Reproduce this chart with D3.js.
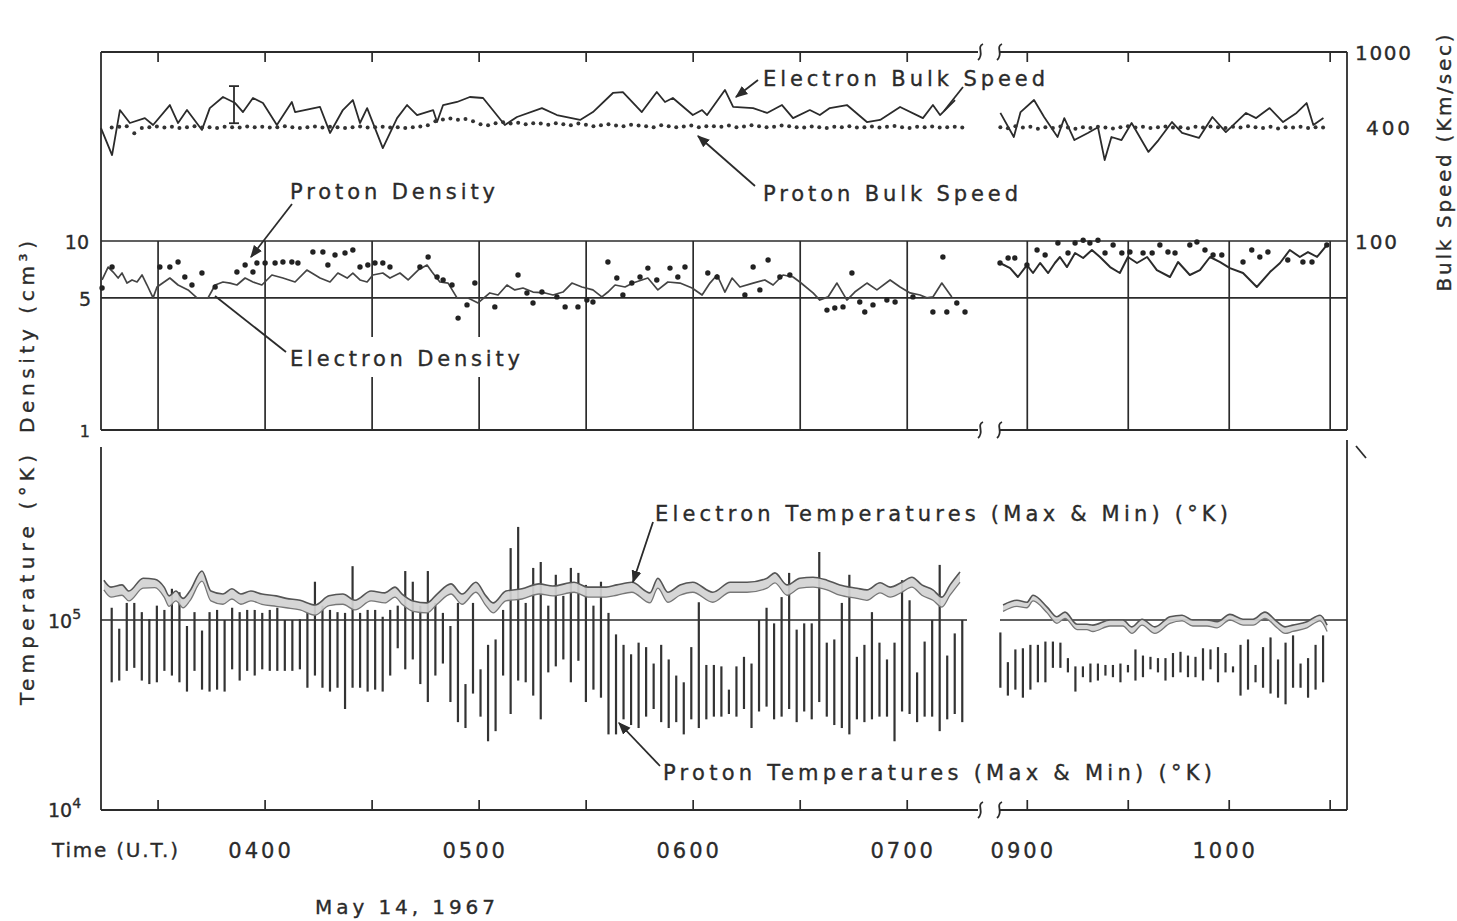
<!DOCTYPE html>
<html>
<head>
<meta charset="utf-8">
<script src="https://cdn.jsdelivr.net/npm/d3@7"></script>
<style>
body { margin: 0; background: #fff; }
text { font-family: "DejaVu Sans", sans-serif; fill: #2b2b2b; stroke: #2b2b2b; stroke-width: 0.35px; }
</style>
</head>
<body>
<svg id="chart" width="1457" height="921"></svg>
<script>
// times are minutes after 00:00 UT, May 14 1967
var segments = [[194, 439], [531, 635]];
var halfHourTicks = [210, 240, 270, 300, 330, 360, 390, 420, 540, 570, 600, 630];
var hourTicks = [240, 300, 360, 420, 540, 600];
var hourLabels = ["0400", "0500", "0600", "0700", "0900", "1000"];

// electron bulk speed (km/s) [time, value]
var eSpeedA = [[194,396],[197.1,285],[199.3,493],[202.1,421],[206.3,447],[208.6,411],[213.3,524],[215.6,421],[218.1,493],[222.3,387],[224.5,505],[228.2,578],[231.6,537],[233.8,481],[236.6,571],[239.4,537],[243.3,411],[247.5,544],[248.4,481],[255.4,512],[258.2,373],[261.8,493],[264.6,557],[266.6,421],[268.6,505],[273,310],[277,447],[279.8,524],[282.6,464],[287.1,493],[288.2,426],[289.9,524],[293.8,544],[297.4,578],[301.1,571],[307.2,411],[310.6,453],[317.6,505],[321.8,464],[328.3,437],[331.9,481],[337.5,607],[340.3,614],[345.6,481],[349.8,614],[352.1,544],[354.3,571],[359.9,464],[362.5,493],[363.9,464],[368.9,630],[371.2,512],[376.8,505],[380.7,476],[384.9,524],[388,447],[392.7,493],[395.5,464],[398.3,505],[403.1,524],[408.7,426],[412.4,437],[418,512],[424.4,447],[427.2,524],[429.2,464],[433.4,557]];
var eSpeedB = [[532,476],[536,355],[538,481],[542,557],[545,453],[549,355],[551,447],[554,342],[558,373],[561,400],[563,268],[565,355],[568,342],[571,421],[576,296],[579,342],[583,426],[586,373],[591,351],[595,453],[599,377],[605,476],[608,447],[612,505],[616,426],[620,476],[623,537],[625,411],[628,447]];

// proton data cadence (start, step in minutes)
var pStartA = 197, pStepA = 2.11;
var pStartB = 532, pStepB = 2.23;

// proton bulk speed (km/s)
var pSpeedA = [398,402,405,372,396,400,404,398,402,396,400,405,398,400,396,402,400,398,404,400,
  402,398,400,405,400,396,400,404,398,402,400,396,400,404,398,400,402,398,400,396,
  400,404,410,430,440,445,438,442,430,415,410,420,425,418,422,415,420,418,412,420,
  415,410,418,412,405,410,415,408,405,412,408,405,400,410,405,400,404,408,400,405,
  405,402,408,400,404,410,405,400,402,408,405,400,398,404,400,396,402,400,405,398,
  400,404,398,402,406,400,396,402,400,404,398,400,402,398];
var pSpeedB = [400,395,405,398,402,392,400,396,404,398,392,400,396,402,398,394,400,405,398,402,
  396,400,404,398,400,395,402,398,404,400,396,402,398,405,400,396,402,394,400,398,402,396,400,398];

// proton temperature max / min (10^3 K)
var pMaxA = [116,90,123,123,110,101,119,113,146,140,93,110,88,110,113,100,116,110,113,113,
  109,113,116,100,100,101,110,159,119,113,110,109,192,109,113,113,104,113,119,181,
  159,119,181,123,109,93,123,46,123,55,74,79,113,239,309,123,188,202,119,173,
  134,188,177,153,119,159,109,84,74,66,76,72,59,74,62,51,47,72,124,58,
  58,57,43,57,64,59,100,116,96,132,177,89,96,96,228,76,79,123,173,64,
  74,110,76,62,76,162,127,53,77,100,195,65,85,100];
var pMinA = [47,48,54,56,48,46,47,54,51,47,42,54,43,42,43,42,55,48,54,51,
  55,54,54,54,54,55,44,51,44,42,44,34,44,44,42,43,42,51,71,55,
  62,46,37,51,59,37,29,27,41,31,23,26,51,32,48,47,40,30,53,57,
  62,47,61,37,43,39,25,25,30,28,27,31,34,29,27,29,25,30,27,30,
  31,31,32,31,34,27,33,35,30,31,34,29,33,30,37,31,28,27,25,30,
  29,30,31,31,23,33,32,29,31,31,26,30,32,29];
var pMaxB = [86,60,70,71,74,74,77,77,76,63,57,57,59,59,58,58,59,58,70,65,
  64,63,63,67,68,65,64,71,70,72,67,57,74,79,58,72,81,62,76,83,59,63,74,83];
var pMinB = [44,40,43,39,43,47,47,56,56,53,42,50,47,48,51,50,47,53,48,50,
  55,53,48,50,53,50,50,48,55,47,53,53,40,43,47,44,41,39,36,44,44,39,43,47];

// proton density (cm^-3) [time, value]
var pDensA = [[194.3,5.64],[197.1,7.28],[210.5,7.28],[213.3,7.28],[215.6,7.74],[217.5,6.45],[219.5,5.85],[222.3,6.77],[226,5.71],[232.1,6.85],[234.4,7.46],[236.6,6.85],[237.7,7.65],[240,7.65],[242.8,7.65],[245,7.74],[247.5,7.74],[249.2,7.65],[253.4,8.74],[256.2,8.74],[257.6,7.46],[259.6,8.43],[262.4,8.64],[264.6,8.96],[266.6,7.28],[268.8,7.46],[270.8,7.65],[273,7.65],[275,7.28],[283.4,7.28],[285.7,8.23],[288.2,6.45],[289.9,6.22],[292.4,5.85],[294.1,3.91],[296.6,4.59],[298.8,5.99],[304.4,4.48],[310.9,6.61],[313.4,5.31],[315.1,4.7],[317.6,5.37],[321.8,5.06],[324.1,4.48],[327.7,4.48],[330.2,4.87],[331.9,4.76],[336.1,7.74],[338.6,6.37],[340.3,5.18],[342.8,5.99],[345.1,6.45],[347.3,7.19],[349.8,6.22],[353.5,7.19],[355.7,6.45],[357.7,7.28],[364.1,6.77],[366.7,6.45],[374.5,5.18],[376.8,7.28],[378.7,5.51],[381,7.93],[384.3,6.45],[387.1,6.61],[397.5,4.31],[399.7,4.42],[402,4.48],[404.5,6.77],[406.7,4.76],[408.1,4.21],[410.4,4.59],[414.3,4.87],[416.6,4.76],[421.6,5.06],[427.2,4.21],[430,8.23],[431.1,4.21],[433.9,4.7],[436.2,4.21]];
var pDensB = [[531.9,7.65],[534.3,8.13],[536.3,8.13],[539.9,7.46],[542.9,8.96],[545.3,8.43],[549.1,9.76],[552.1,8.64],[554.2,9.76],[556.6,10.1],[558.6,9.76],[561,10.1],[563.1,8.64],[565.5,9.52],[568.1,8.64],[570.5,8.74],[574.4,8.64],[577.1,8.64],[579.4,9.52],[581.8,8.74],[583.9,8.64],[588.3,9.52],[590.4,9.88],[592.8,8.96],[595.2,8.43],[597.8,8.43],[604.1,7.74],[606.7,8.96],[609.1,8.23],[611.5,8.74],[617.4,7.93],[621.9,7.74],[624.6,7.74],[629,9.52]];

// electron density (cm^-3) [time, value]
var eDensA = [[194.3,6.22],[196,7.28],[197.4,6.85],[198.8,6.37],[199.9,6.77],[201.3,5.99],[202.7,6.22],[204.1,6.07],[205.5,6.61],[206.9,5.85],[208.6,5.0],[209.7,5.71],[213.3,6.37],[215.6,5.85],[218.4,5.51],[220.9,5.0],[224,5.0],[226,5.85],[228.2,6.07],[230.2,5.99],[232.1,5.85],[234.4,6.37],[236.6,6.07],[239.1,5.85],[241.9,6.61],[245,6.37],[248.4,6.07],[251.7,7.02],[255.4,6.37],[258.2,6.07],[260.4,6.77],[263,6.37],[264.6,6.77],[266.6,6.22],[268.6,6.07],[270.2,6.61],[273,6.77],[275,6.37],[277.8,6.77],[280.1,6.22],[282.9,7.02],[285.4,7.46],[286.8,6.85],[289,6.07],[291.3,5.99],[293.8,5.0],[296.9,5.0],[299.7,4.7],[303,5.31],[305.3,5.18],[307.8,5.85],[310,5.51],[312.3,5.64],[315.1,5.37],[318.5,5.31],[320.7,5.18],[323.5,5.37],[326,5.99],[328.8,5.71],[331.9,5.51],[334.4,5.06],[336.1,5.37],[338.1,5.85],[340.9,5.71],[343.1,5.99],[347.3,6.37],[350.1,5.51],[352.9,6.07],[356.3,5.99],[359.7,5.64],[362.5,5.18],[364.7,5.99],[366.7,6.61],[368.9,5.37],[370.9,6.37],[373.1,5.71],[376.8,5.99],[380.1,6.22],[382.4,5.85],[385.2,6.61],[388,6.45],[389.9,6.07],[393.6,5.31],[395.5,4.87],[397.8,5.06],[400.3,5.99],[403.1,4.87],[405.3,5.37],[408.7,5.99],[411.5,5.51],[415.2,6.22],[418,5.71],[420.8,5.31],[423.6,5.18],[425.5,5.0],[427.2,5.06],[429.7,5.99],[432.5,5.06]];
var eDensB = [[531.9,7.65],[534.9,7.19],[537.2,6.45],[539.9,7.46],[541.7,6.77],[543.8,7.65],[546.2,6.77],[548.2,7.65],[549.7,8.23],[551.8,7.28],[554.2,8.64],[556.6,8.13],[559.2,8.96],[561.6,8.23],[564.6,7.28],[567.5,6.77],[569.9,8.23],[572.6,7.65],[575.6,8.23],[578.5,7.02],[582.4,6.45],[584.8,7.74],[588.3,6.61],[591.3,7.02],[594.3,8.23],[597.3,7.74],[600.2,7.19],[604.1,6.77],[608.2,5.71],[612.1,6.85],[615.1,7.65],[618,8.96],[621,8.23],[623.4,8.74],[626.1,8.23],[629,9.52]];

// electron temperature [time, max, min] (10^3 K)
var eTempA = [[194.8,162,144],[196.8,149,132],[199.9,153,135],[201.8,142,126],[205.8,166,147],[209.1,164,148],[211.7,149,132],[213.1,134,118],[215,142,126],[217,130,116],[218.9,142,126],[222.3,181,160],[224.8,142,126],[228.2,137,121],[230.7,146,129],[233.2,137,121],[236,142,126],[239.1,137,121],[243.1,134,118],[245.9,130,116],[249.8,127,113],[254,120,106],[257.9,134,119],[261.8,137,121],[265.2,127,113],[269.7,142,126],[273.6,139,123],[276.4,149,132],[278.4,137,121],[281.5,126,111],[285.4,123,109],[288.2,137,121],[292.1,155,137],[295.2,137,121],[299.1,158,140],[301.9,134,119],[303.9,123,109],[307.5,142,126],[312,146,129],[316.8,155,137],[320.7,151,134],[326.6,158,140],[330.5,149,132],[335.6,149,132],[338.6,153,135],[342.8,158,140],[347.9,139,123],[350.1,166,147],[352.9,140,124],[356.3,153,135],[359.9,158,140],[365.5,140,124],[370.4,158,140],[375.1,158,140],[380.7,166,147],[382.9,177,157],[386.3,153,135],[389.9,166,147],[393.6,168,149],[397.5,162,144],[401.1,153,135],[405.9,147,130],[408.7,144,127],[412.4,157,139],[415.2,149,132],[418.5,158,140],[421.3,168,149],[424.1,153,135],[427.2,144,127],[429.7,132,117],[432,153,135],[434.8,179,158]];
var eTempB = [[532.8,120,111],[536.9,127,118],[539.9,124,116],[541.7,135,126],[545.9,117,109],[548.8,104,96],[551.2,110,102],[554.8,95,89],[557.7,95,89],[559.5,94,87],[564.6,100,93],[568.4,100,93],[571.1,92,85],[574.1,101,94],[577.9,92,85],[582.4,104,96],[586,106,99],[589.2,100,93],[593.4,100,93],[596.4,98,91],[600.2,107,100],[604.1,101,94],[607.1,101,94],[610.6,110,102],[614.2,98,91],[616.6,92,85],[618.9,94,87],[623.1,98,91],[627,106,99],[629.1,94,87]];

var ink = "#2b2b2b";
var svg = d3.select("#chart");
svg.append("rect").attr("width", 1457).attr("height", 921).attr("fill", "#fff");

var defs = svg.append("defs");
defs.append("marker").attr("id", "arr").attr("viewBox", "0 0 10 10")
  .attr("refX", 9).attr("refY", 5).attr("markerWidth", 7).attr("markerHeight", 7)
  .attr("orient", "auto")
  .append("path").attr("d", "M0,1 L10,5 L0,9 z").attr("fill", ink);

// scales: broken time axis + log value axes
var x = d3.scaleLinear()
  .domain([segments[0][0], segments[0][1], segments[1][0], segments[1][1]])
  .range([101, 975, 997, 1347]);
var ySpeed = d3.scaleLog().domain([100, 1000]).range([241, 52]);
var yDens = d3.scaleLog().domain([1, 10]).range([430, 241]);
var yTemp = d3.scaleLog().domain([1e4, 1e5]).range([810, 620]);

var frame = svg.append("g").attr("stroke", ink).attr("stroke-width", 1.8).attr("fill", "none");

function line(x1, y1, x2, y2, w) {
  return frame.append("line").attr("x1", x1).attr("y1", y1).attr("x2", x2).attr("y2", y2)
    .attr("stroke-width", w || 1.8);
}
function squiggle(cx, cy) {
  frame.append("path")
    .attr("d", "M" + (cx + 3) + "," + (cy - 8) + " C" + (cx - 4) + "," + (cy - 5) + " " + (cx + 5) + "," + (cy + 2) + " " + (cx - 2) + "," + (cy + 8))
    .attr("stroke-width", 1.8);
}

// horizontal borders with break marks
[52, 430, 810].forEach(function(yy) {
  line(101, yy, 978, yy);
  line(1000, yy, 1347, yy);
  squiggle(980, yy);
  squiggle(999, yy);
});
// side axes
line(101, 52, 101, 430);
line(1347, 52, 1347, 430);
line(101, 447, 101, 810);
line(1347, 440, 1347, 810);
line(1356, 446, 1366, 458, 1.8);

// half-hour ticks top and bottom, grid in density panel
halfHourTicks.forEach(function(t) {
  line(x(t), 52, x(t), 62, 1.7);
  line(x(t), 810, x(t), 800, 1.7);
  line(x(t), yDens(10), x(t), yDens(1), 1.7);
});
// reference lines
line(101, yDens(10), 1347, yDens(10), 1.7);
line(101, yDens(5), 1347, yDens(5), 1.7);
line(101, yTemp(1e5), 967, yTemp(1e5), 1.5);
line(1000, yTemp(1e5), 1347, yTemp(1e5), 1.5);

// ---- bulk speed ----
var speedLine = d3.line().x(function(d) { return x(d[0]); }).y(function(d) { return ySpeed(d[1]); });
[eSpeedA, eSpeedB].forEach(function(s) {
  svg.append("path").datum(s).attr("d", speedLine)
    .attr("fill", "none").attr("stroke", ink).attr("stroke-width", 1.8).attr("stroke-linejoin", "round");
});
function cadence(vals, start, step) {
  return vals.map(function(v, i) { return [start + i * step, v]; });
}
var pSpeed = cadence(pSpeedA, pStartA, pStepA).concat(cadence(pSpeedB, pStartB, pStepB));
svg.append("g").selectAll("circle").data(pSpeed).enter().append("circle")
  .attr("cx", function(d) { return x(d[0]); })
  .attr("cy", function(d) { return ySpeed(d[1]); })
  .attr("r", 2).attr("fill", "#333");

// error bar on electron speed
line(234, ySpeed(660), 234, ySpeed(420), 1.8);
line(229, ySpeed(660), 239, ySpeed(660), 1.8);
line(229, ySpeed(420), 239, ySpeed(420), 1.8);

// ---- density ----
var densLine = d3.line().x(function(d) { return x(d[0]); }).y(function(d) { return yDens(d[1]); });
svg.append("path").datum(eDensA).attr("d", densLine)
  .attr("fill", "none").attr("stroke", "#444").attr("stroke-width", 1.7).attr("stroke-linejoin", "round");
svg.append("path").datum(eDensB).attr("d", densLine)
  .attr("fill", "none").attr("stroke", "#2b2b2b").attr("stroke-width", 2).attr("stroke-linejoin", "round");
svg.append("g").selectAll("circle").data(pDensA.concat(pDensB)).enter().append("circle")
  .attr("cx", function(d) { return x(d[0]); })
  .attr("cy", function(d) { return yDens(d[1]); })
  .attr("r", 2.7).attr("fill", "#222");

// ---- temperatures ----
var pTemp = [];
pMaxA.forEach(function(v, i) { pTemp.push([pStartA + i * pStepA, v, pMinA[i]]); });
pMaxB.forEach(function(v, i) { pTemp.push([pStartB + i * pStepB, v, pMinB[i]]); });
svg.append("g").selectAll("line").data(pTemp).enter().append("line")
  .attr("x1", function(d) { return x(d[0]); })
  .attr("x2", function(d) { return x(d[0]); })
  .attr("y1", function(d) { return yTemp(d[1] * 1000); })
  .attr("y2", function(d) { return yTemp(d[2] * 1000); })
  .attr("stroke", "#333").attr("stroke-width", 2.2);

var band = d3.area().curve(d3.curveMonotoneX)
  .x(function(d) { return x(d[0]); })
  .y0(function(d) { return yTemp(d[2] * 1000); })
  .y1(function(d) { return yTemp(d[1] * 1000); });
var edgeHi = d3.line().curve(d3.curveMonotoneX)
  .x(function(d) { return x(d[0]); }).y(function(d) { return yTemp(d[1] * 1000); });
var edgeLo = d3.line().curve(d3.curveMonotoneX)
  .x(function(d) { return x(d[0]); }).y(function(d) { return yTemp(d[2] * 1000); });
[eTempA, eTempB].forEach(function(s) {
  svg.append("path").datum(s).attr("d", band).attr("fill", "#d2d2d2").attr("opacity", 0.92);
  svg.append("path").datum(s).attr("d", edgeHi).attr("fill", "none").attr("stroke", "#555").attr("stroke-width", 1.6);
  svg.append("path").datum(s).attr("d", edgeLo).attr("fill", "none").attr("stroke", "#777").attr("stroke-width", 1.3);
});

// ---- text ----
function label(txt, x0, y0, len, size) {
  return svg.append("text").attr("x", x0).attr("y", y0)
    .attr("font-size", size || 21)
    .attr("textLength", len).attr("lengthAdjust", "spacing")
    .text(txt);
}
function leader(x1, y1, x2, y2, arrow) {
  var l = svg.append("line").attr("x1", x1).attr("y1", y1).attr("x2", x2).attr("y2", y2)
    .attr("stroke", ink).attr("stroke-width", 1.8);
  if (arrow) l.attr("marker-end", "url(#arr)");
}

label("Electron Bulk Speed", 763, 86, 282);
leader(758, 80, 736, 97, true);
leader(963, 87, 944, 111, false);
label("Proton Bulk Speed", 763, 201, 255);
leader(755, 186, 698, 136, true);
label("Proton Density", 290, 199, 205);
leader(292, 204, 251, 257, true);
svg.append("rect").attr("x", 283).attr("y", 337).attr("width", 242).attr("height", 40).attr("fill", "#fff");
label("Electron Density", 290, 366, 230);
leader(286, 352, 215, 296, false);
label("Electron  Temperatures (Max & Min) (\u00b0K)", 655, 521, 573);
leader(653, 522, 633, 582, true);
label("Proton Temperatures (Max & Min) (\u00b0K)", 663, 780, 549);
leader(660, 766, 619, 723, true);

// left axis labels
svg.append("text").attr("x", 89).attr("y", 249).attr("text-anchor", "end").attr("font-size", 19).text("10");
svg.append("text").attr("x", 91).attr("y", 306).attr("text-anchor", "end").attr("font-size", 19).text("5");
svg.append("text").attr("x", 90).attr("y", 437).attr("text-anchor", "end").attr("font-size", 16).text("1");
function powLabel(exp, yy) {
  var t = svg.append("text").attr("x", 48).attr("y", yy).attr("font-size", 19);
  t.append("tspan").text("10");
  t.append("tspan").attr("dy", -9).attr("font-size", 14).text(exp);
}
powLabel("5", yTemp(1e5) + 8);
powLabel("4", yTemp(1e4) + 7);

// right axis labels
svg.append("text").attr("x", 1355).attr("y", ySpeed(1000) + 8).attr("font-size", 20).attr("textLength", 56).text("1000");
svg.append("text").attr("x", 1366).attr("y", ySpeed(400) + 8).attr("font-size", 20).attr("textLength", 44).text("400");
svg.append("text").attr("x", 1355).attr("y", ySpeed(100) + 8).attr("font-size", 20).attr("textLength", 42).text("100");

// axis titles (rotated)
function vtitle(txt, cx, cy, len) {
  svg.append("text").attr("transform", "translate(" + cx + "," + cy + ") rotate(-90)")
    .attr("text-anchor", "middle").attr("font-size", 20)
    .attr("textLength", len).attr("lengthAdjust", "spacing").text(txt);
}
vtitle("Density (cm\u00b3)", 34, 337, 192);
vtitle("Temperature (\u00b0K)", 34, 580, 250);
vtitle("Bulk Speed (Km/sec)", 1451, 163, 257);

// time axis labels
label("Time (U.T.)", 52, 857, 126, 20);
svg.append("g").selectAll("text").data(hourTicks).enter().append("text")
  .attr("x", function(d) { return x(d) - 4; })
  .attr("y", 858)
  .attr("text-anchor", "middle")
  .attr("font-size", 21)
  .attr("letter-spacing", 3)
  .text(function(d, i) { return hourLabels[i]; });
label("May 14, 1967", 315, 914, 180, 20);
</script>
</body>
</html>
